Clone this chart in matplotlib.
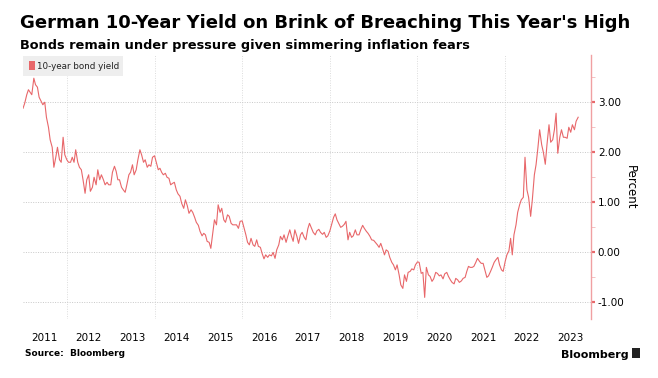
import numpy as np
import pandas as pd
import matplotlib
matplotlib.use("Agg")
import matplotlib.pyplot as plt
from matplotlib.patches import Rectangle

y2011 = [2.88, 2.98, 3.15, 3.25, 3.20, 3.15, 3.48, 3.35, 3.30, 3.10, 3.02, 2.95,
         3.00, 2.70, 2.50, 2.25, 2.10, 1.70, 1.90, 2.10, 1.85, 1.80, 2.30, 1.95]
y2012 = [1.85, 1.80, 1.80, 1.90, 1.80, 2.05, 1.80, 1.70, 1.65, 1.45, 1.18, 1.45,
         1.55, 1.22, 1.30, 1.50, 1.35, 1.65, 1.45, 1.55, 1.45, 1.35, 1.40, 1.35]
y2013 = [1.35, 1.60, 1.72, 1.62, 1.45, 1.45, 1.30, 1.25, 1.20, 1.35, 1.55, 1.60,
         1.75, 1.55, 1.65, 1.85, 2.05, 1.95, 1.80, 1.85, 1.70, 1.75, 1.72, 1.90]
y2014 = [1.93, 1.80, 1.65, 1.68, 1.60, 1.55, 1.58, 1.50, 1.48, 1.35, 1.38, 1.40,
         1.25, 1.17, 1.12, 0.98, 0.88, 1.05, 0.93, 0.78, 0.85, 0.80, 0.70, 0.60]
y2015 = [0.54, 0.42, 0.33, 0.38, 0.35, 0.22, 0.20, 0.08, 0.38, 0.65, 0.55, 0.95,
         0.80, 0.88, 0.65, 0.60, 0.75, 0.72, 0.58, 0.55, 0.55, 0.55, 0.48, 0.62]
y2016 = [0.63, 0.50, 0.35, 0.20, 0.15, 0.28, 0.15, 0.12, 0.25, 0.12, 0.10, -0.02,
         -0.13, -0.05, -0.10, -0.05, -0.07, 0.00, -0.12, 0.05, 0.15, 0.32, 0.25, 0.35]
y2017 = [0.20, 0.32, 0.45, 0.32, 0.22, 0.45, 0.32, 0.18, 0.35, 0.40, 0.30, 0.25,
         0.47, 0.58, 0.48, 0.40, 0.35, 0.43, 0.46, 0.40, 0.36, 0.40, 0.30, 0.33]
y2018 = [0.43, 0.55, 0.70, 0.77, 0.65, 0.58, 0.50, 0.52, 0.56, 0.62, 0.25, 0.40,
         0.30, 0.33, 0.45, 0.35, 0.35, 0.45, 0.54, 0.48, 0.42, 0.38, 0.32, 0.25]
y2019 = [0.24, 0.20, 0.15, 0.10, 0.18, 0.08, -0.05, 0.05, 0.02, -0.10, -0.20, -0.25,
         -0.35, -0.25, -0.45, -0.65, -0.72, -0.45, -0.58, -0.40, -0.38, -0.33, -0.35, -0.25]
y2020 = [-0.19, -0.20, -0.42, -0.40, -0.90, -0.30, -0.45, -0.48, -0.58, -0.53, -0.40, -0.42,
         -0.47, -0.45, -0.53, -0.43, -0.40, -0.48, -0.55, -0.60, -0.63, -0.52, -0.55, -0.60]
y2021 = [-0.57, -0.52, -0.50, -0.38, -0.28, -0.30, -0.30, -0.28, -0.20, -0.12, -0.18, -0.22,
         -0.22, -0.35, -0.50, -0.47, -0.38, -0.30, -0.20, -0.15, -0.10, -0.25, -0.35, -0.38]
y2022 = [-0.18, -0.05, 0.03, 0.28, -0.05, 0.35, 0.55, 0.80, 0.95, 1.05, 1.10, 1.90,
         1.25, 1.10, 0.72, 1.05, 1.55, 1.75, 2.10, 2.45, 2.15, 2.00, 1.76, 2.15]
y2023 = [2.55, 2.20, 2.25, 2.45, 2.78, 1.98, 2.30, 2.45, 2.30, 2.30, 2.28, 2.50,
         2.40, 2.55, 2.45, 2.62, 2.70]

yields = (y2011 + y2012 + y2013 + y2014 + y2015 + y2016 + y2017 + y2018 +
          y2019 + y2020 + y2021 + y2022 + y2023)
dates = pd.date_range("2011-01-01", periods=len(yields), freq="SMS")

years = list(range(2011, 2024))
yticks = [-1, 0, 1, 2, 3]

red = "#e8676a"

fig = plt.figure(figsize=(6.58, 3.78), dpi=100)
ax = fig.add_axes([0.035, 0.155, 0.863, 0.699])

ax.plot(dates, yields, color=red, lw=0.8)

ax.set_xlim(pd.Timestamp("2011-01-01"), pd.Timestamp("2023-12-16"))
ax.set_ylim(-1.34, 3.94)

# y axis on the right
ax.yaxis.tick_right()
ax.yaxis.set_label_position("right")
ax.set_yticks(yticks)
ax.set_yticklabels([f"{v:.2f}" for v in yticks], fontsize=7.5)
ax.set_yticks(np.arange(-1, 4, 0.5), minor=True)
ax.tick_params(axis="y", which="major", length=3, width=1.6, color=red, pad=2)
ax.tick_params(axis="y", which="minor", length=3, width=0.6, color="#f2b8b9")
ax.set_ylabel("Percent", fontsize=8.5, rotation=270, labelpad=9)

# year labels in the middle of each year, grid on even year starts
ax.set_xticks([pd.Timestamp(f"{y}-07-01") for y in years])
ax.set_xticklabels([str(y) for y in years], fontsize=7.5)
ax.tick_params(axis="x", which="major", length=0, pad=10)
ax.set_xticks([pd.Timestamp(f"{y}-01-01") for y in range(2012, 2024, 2)], minor=True)
ax.tick_params(axis="x", which="minor", length=0)

ax.grid(axis="y", which="major", color="#c8c8c8", ls=(0, (1, 1.5)), lw=0.7)
ax.grid(axis="x", which="minor", color="#dcdcdc", ls=(0, (1, 1.5)), lw=0.7)

for s in ["top", "left", "bottom"]:
    ax.spines[s].set_visible(False)
ax.spines["right"].set_color("#f0a0a2")
ax.spines["right"].set_linewidth(1.0)

# legend box
ax.add_patch(Rectangle((0.0, 0.92), 0.176, 0.077, transform=ax.transAxes,
                       facecolor="#eeeeee", edgecolor="none", zorder=3))
ax.add_patch(Rectangle((0.011, 0.943), 0.010, 0.034, transform=ax.transAxes,
                       facecolor=red, edgecolor="none", zorder=4))
ax.text(0.025, 0.959, "10-year bond yield", transform=ax.transAxes,
        fontsize=6.3, va="center", ha="left", color="#222222", zorder=4)

fig.text(0.031, 0.925, "German 10-Year Yield on Brink of Breaching This Year's High",
         fontsize=13, fontweight="bold", ha="left", va="baseline")
fig.text(0.031, 0.87, "Bonds remain under pressure given simmering inflation fears",
         fontsize=9.3, fontweight="bold", ha="left", va="baseline")
fig.text(0.038, 0.058, "Source:  Bloomberg", fontsize=6.5, fontweight="bold",
         ha="left", va="baseline")
fig.text(0.956, 0.054, "Bloomberg", fontsize=8, fontweight="bold",
         ha="right", va="baseline")
fig.patches.append(Rectangle((0.961, 0.054), 0.012, 0.026, transform=fig.transFigure,
                             facecolor="#222222", edgecolor="none"))

fig.savefig("out.png", dpi=100)
